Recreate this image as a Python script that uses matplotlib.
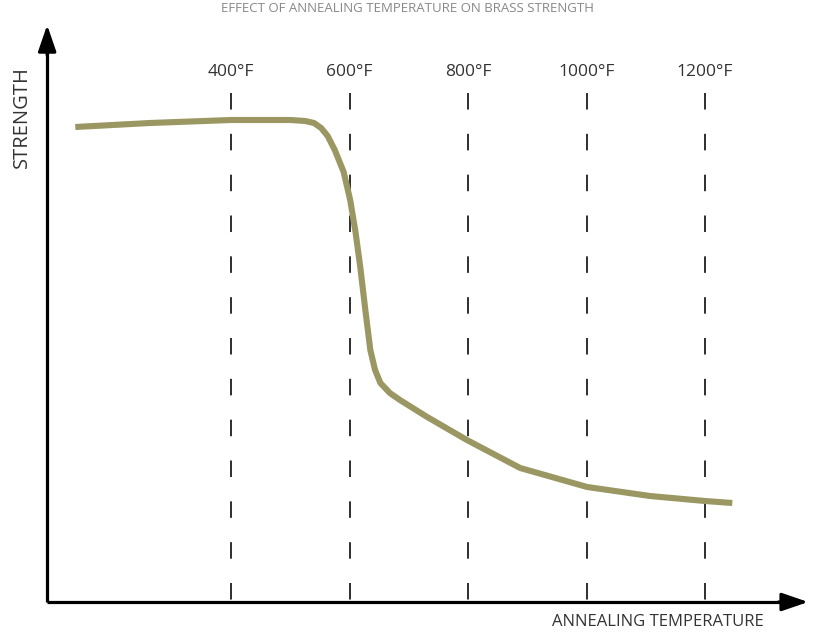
import matplotlib
matplotlib.use("Agg")
import matplotlib.pyplot as plt

# ---- data ----
temp_f = [137, 263, 400, 500, 525, 540, 552, 563, 575, 590, 601, 610, 618, 627,
          635, 643, 652, 668, 685, 731, 798, 888, 1001, 1107, 1200, 1246]
strength = [475, 479, 482, 482, 481, 479, 474, 466, 452, 430, 402, 370, 335, 290,
            252, 232, 219, 209, 202, 185, 162, 134, 115, 106, 101, 99]
ref_temps = [400, 600, 800, 1000, 1200]
ref_labels = ["400°F", "600°F", "800°F", "1000°F", "1200°F"]
x_label = "ANNEALING TEMPERATURE"
y_label = "STRENGTH"
title = "EFFECT OF ANNEALING TEMPERATURE ON BRASS STRENGTH"

plt.rcParams['font.family'] = ['Open Sans', 'DejaVu Sans']

fig = plt.figure(figsize=(8.15, 6.35), dpi=100)
ax = fig.add_axes([0, 0, 1, 1])
ax.set_xlim(9.9, 1385.6)
ax.set_ylim(-33, 602)
ax.axis('off')

x0, y0 = 89.5, 0
x_tip, y_tip = 1374, 577

# axes with arrows
ax.plot([x0, x0], [y0, y_tip - 20], color='black', lw=2.3, solid_capstyle='butt')
ax.plot([x0, x_tip - 30], [y0, y0], color='black', lw=2.3, solid_capstyle='butt')
ax.annotate('', xy=(x0, y_tip), xytext=(x0, y_tip - 30),
            arrowprops=dict(arrowstyle='-|>,head_length=1.6,head_width=0.55',
                            color='black', lw=2.3, shrinkA=0, shrinkB=0))
ax.annotate('', xy=(x_tip, y0), xytext=(x_tip - 50, y0),
            arrowprops=dict(arrowstyle='-|>,head_length=1.6,head_width=0.55',
                            color='black', lw=2.3, shrinkA=0, shrinkB=0))

# reference dashed lines + labels
for t, lab in zip(ref_temps, ref_labels):
    ax.plot([t, t], [509, 2], color='#2e2e2e', lw=1.4,
            linestyle=(0, (8.5, 12.5)))
    ax.text(t, 530, lab, ha='center', va='center', fontsize=12.5,
            color='#333333')

# curve
ax.plot(temp_f, strength, color='#9a9762', lw=4.4, solid_capstyle='butt',
        solid_joinstyle='round')

ax.text(22 / 0.5925 + 9.9, 602 - 117, y_label, rotation=90, ha='center',
        va='center', fontsize=14.5, color='#333333')
ax.text(9.9 + 658 / 0.5925, 602 - 622, x_label, ha='center', va='center',
        fontsize=12, color='#333333')

fig.text(0.5, 1 - 2 / 635, title, ha='center', va='top', fontsize=9.5,
         color='#888888')

fig.savefig('out.png', dpi=100)
